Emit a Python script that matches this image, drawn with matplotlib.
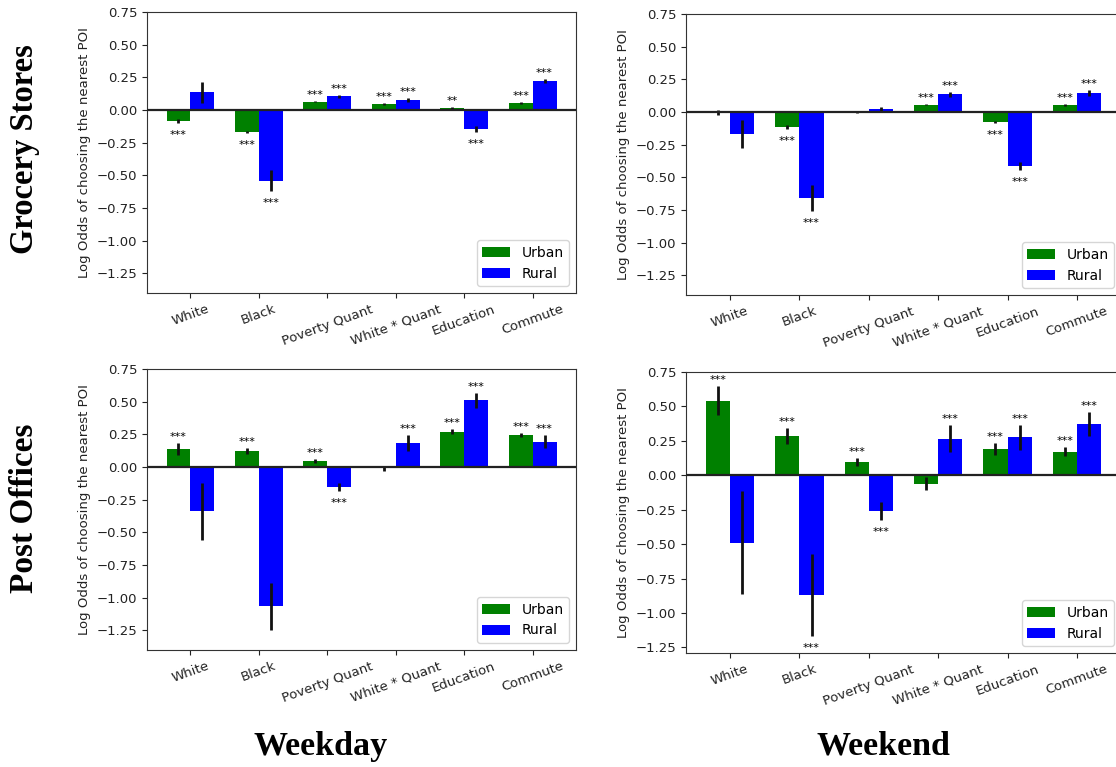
import numpy as np
import matplotlib
matplotlib.use("Agg")
import matplotlib.pyplot as plt

categories = ['White', 'Black', 'Poverty Quant', 'White * Quant', 'Education', 'Commute']
series_names = ['Urban', 'Rural']

# Grocery Stores - Weekday
gw_urban = [-0.085, -0.165, 0.065, 0.048, 0.018, 0.055]
gw_urban_err = [0.015, 0.008, 0.006, 0.006, 0.008, 0.006]
gw_rural = [0.135, -0.54, 0.105, 0.078, -0.145, 0.225]
gw_rural_err = [0.08, 0.08, 0.01, 0.015, 0.022, 0.015]
gw_urban_sig = ['***', '***', '***', '***', '**', '***']
gw_rural_sig = ['', '***', '***', '***', '***', '***']

# Grocery Stores - Weekend
ge_urban = [-0.005, -0.115, -0.003, 0.055, -0.075, 0.055]
ge_urban_err = [0.02, 0.012, 0.003, 0.005, 0.008, 0.006]
ge_rural = [-0.165, -0.66, 0.025, 0.135, -0.41, 0.145]
ge_rural_err = [0.107, 0.098, 0.017, 0.022, 0.03, 0.025]
ge_urban_sig = ['', '***', '', '***', '***', '***']
ge_rural_sig = ['', '***', '', '***', '***', '***']

# Post Offices - Weekday
pw_urban = [0.135, 0.125, 0.047, -0.01, 0.27, 0.243]
pw_urban_err = [0.045, 0.022, 0.015, 0.02, 0.02, 0.015]
pw_rural = [-0.34, -1.065, -0.155, 0.185, 0.51, 0.195]
pw_rural_err = [0.22, 0.18, 0.032, 0.062, 0.057, 0.05]
pw_urban_sig = ['***', '***', '***', '', '***', '***']
pw_rural_sig = ['', '', '***', '***', '***', '***']

# Post Offices - Weekend
pe_urban = [0.54, 0.285, 0.095, -0.06, 0.19, 0.17]
pe_urban_err = [0.105, 0.06, 0.03, 0.045, 0.046, 0.032]
pe_rural = [-0.49, -0.87, -0.26, 0.265, 0.275, 0.37]
pe_rural_err = [0.375, 0.30, 0.065, 0.097, 0.092, 0.088]
pe_urban_sig = ['***', '***', '***', '', '***', '***']
pe_rural_sig = ['', '***', '***', '***', '***', '***']

yticks = [0.75, 0.50, 0.25, 0.00, -0.25, -0.50, -0.75, -1.00, -1.25]
ylabel = 'Log Odds of choosing the nearest POI'
row_labels = ['Grocery Stores', 'Post Offices']
col_labels = ['Weekday', 'Weekend']

W, H = 1116, 767
fig = plt.figure(figsize=(W / 100, H / 100), dpi=100)


def px_axes(left, right, top, bottom):
    return fig.add_axes([left / W, (H - bottom) / H, (right - left) / W, (bottom - top) / H])


def draw_panel(ax, urban, uerr, rural, rerr, usig, rsig, ylim):
    x = np.arange(len(categories))
    w = 0.35
    ax.bar(x - w / 2, urban, w, color='green', label=series_names[0],
           yerr=uerr, error_kw=dict(ecolor='#111111', elinewidth=2, capsize=0))
    ax.bar(x + w / 2, rural, w, color='blue', label=series_names[1],
           yerr=rerr, error_kw=dict(ecolor='#111111', elinewidth=2, capsize=0))
    ax.axhline(0, color='#222222', lw=1.6, zorder=3)
    for xs, vals, errs, sigs in [(x - w / 2, urban, uerr, usig), (x + w / 2, rural, rerr, rsig)]:
        for xi, v, e, s in zip(xs, vals, errs, sigs):
            if not s:
                continue
            if v >= 0:
                ax.annotate(s, (xi, v + e), xytext=(0, 6), textcoords='offset pixels',
                            ha='center', va='center', fontsize=8)
            else:
                ax.annotate(s, (xi, v - e), xytext=(0, -12), textcoords='offset pixels',
                            ha='center', va='center', fontsize=8)
    ax.set_xticks(x)
    ax.set_xticklabels(categories, rotation=20, ha='center', fontsize=9.5)
    ax.set_yticks(yticks)
    ax.set_yticklabels([f'{t:.2f}'.replace('-', '\u2212') for t in yticks], fontsize=9.5)
    ax.set_ylim(*ylim)
    ax.set_xlim(-0.635, len(categories) - 1 + 0.635)
    ax.set_ylabel(ylabel, fontsize=9.5, color='#222222')
    ax.tick_params(colors='#222222')
    for sp in ax.spines.values():
        sp.set_color('#333333')
    ax.legend(loc='lower right', fontsize=10)


ax1 = px_axes(147, 576, 12, 293)
draw_panel(ax1, gw_urban, gw_urban_err, gw_rural, gw_rural_err, gw_urban_sig, gw_rural_sig, (-1.4, 0.75))
ax2 = px_axes(686, 1121, 14, 295)
draw_panel(ax2, ge_urban, ge_urban_err, ge_rural, ge_rural_err, ge_urban_sig, ge_rural_sig, (-1.4, 0.75))
ax3 = px_axes(147, 576, 369, 650)
draw_panel(ax3, pw_urban, pw_urban_err, pw_rural, pw_rural_err, pw_urban_sig, pw_rural_sig, (-1.4, 0.75))
ax4 = px_axes(686, 1121, 372, 653)
draw_panel(ax4, pe_urban, pe_urban_err, pe_rural, pe_rural_err, pe_urban_sig, pe_rural_sig, (-1.29, 0.75))

serif = ['Liberation Serif', 'DejaVu Serif']
fig.text(25 / W, 1 - 149 / H, row_labels[0], rotation=90, ha='center', va='center',
         fontsize=23.5, fontweight='bold', family=serif)
fig.text(25 / W, 1 - 508 / H, row_labels[1], rotation=90, ha='center', va='center',
         fontsize=24, fontweight='bold', family=serif)
fig.text(321 / W, 1 - 746 / H, col_labels[0], ha='center', va='center',
         fontsize=24.5, fontweight='bold', family=serif)
fig.text(883 / W, 1 - 746 / H, col_labels[1], ha='center', va='center',
         fontsize=24.5, fontweight='bold', family=serif)

fig.savefig('out.png', dpi=100)
